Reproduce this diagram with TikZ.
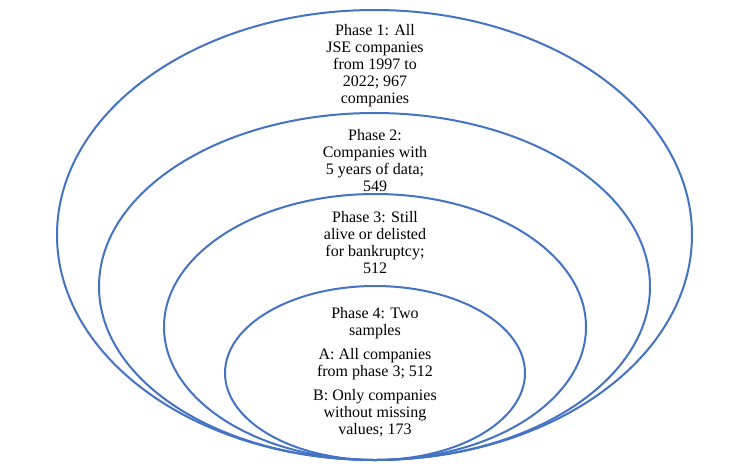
\documentclass[tikz,border=0pt]{standalone}
\usepackage{fontspec}
\setmainfont{Liberation Serif}
\begin{document}
\begin{tikzpicture}[x=1pt,y=-1pt,
  ring/.style={draw={rgb,255:red,68;green,114;blue,196}, line width=2pt},
  label/.style={anchor=base, inner sep=0pt, font=\fontsize{16}{17}\selectfont}]
\useasboundingbox (0,0) rectangle (747,467);
\path[ring] (374.5,235) ellipse [x radius=317.5pt, y radius=225pt];
\path[ring] (374.5,286.5) ellipse [x radius=275.5pt, y radius=173.5pt];
\path[ring] (375,327) ellipse [x radius=211pt, y radius=133pt];
\path[ring] (375,373) ellipse [x radius=150pt, y radius=87pt];
\node[label] (p1) at (375,35) {\parbox[t]{200pt}{\centering\fontsize{16}{17}\selectfont Phase 1: All\\JSE companies\\from 1997 to\\2022; 967\\companies}};
\node[label] (p2) at (375,140) {\parbox[t]{200pt}{\centering\fontsize{16}{17}\selectfont Phase 2:\\Companies with\\5 years of data;\\549}};
\node[label] (p3) at (375,222) {\parbox[t]{200pt}{\centering\fontsize{16}{17}\selectfont Phase 3: Still\\alive or delisted\\for bankruptcy;\\512}};
\node[label] (p4) at (375,318) {\parbox[t]{200pt}{\centering\fontsize{16}{17}\selectfont Phase 4: Two\\samples\\[7pt]A: All companies\\from phase 3; 512\\[7pt]B: Only companies\\without missing\\values; 173}};
\end{tikzpicture}
\end{document}
